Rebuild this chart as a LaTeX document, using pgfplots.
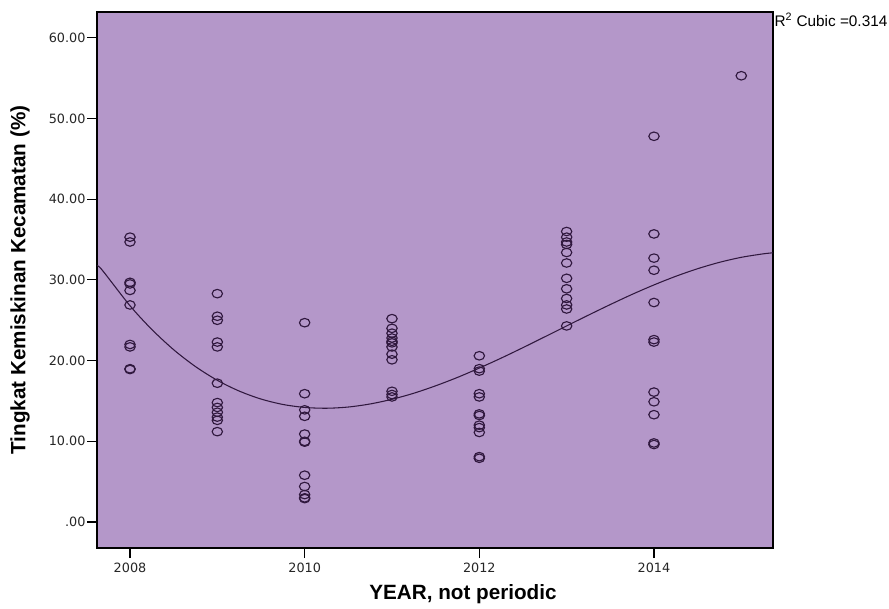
\documentclass[border=0pt]{standalone}
\usepackage{pgfplots}
\pgfplotsset{compat=1.18}
\usepackage{fontspec}
\setmainfont{Liberation Sans}
\newfontfamily\tickfont{DejaVu Sans}
\definecolor{bgp}{RGB}{180,151,201}
\definecolor{mk}{RGB}{48,24,62}
\begin{document}
\begin{tikzpicture}
\path[use as bounding box] (-72.75pt,-45pt) rectangle (594pt,411pt);
\begin{axis}[
  scale only axis,
  width=507pt, height=402pt,
  xmin=2007.622, xmax=2015.363,
  ymin=-3.22, ymax=63.2,
  axis background/.style={fill=bgp},
  axis line style={black, line width=0.8pt},
  xtick={2008,2010,2012,2014},
  xticklabels={2008,2010,2012,2014},
  ytick={0,10,20,30,40,50,60},
  yticklabels={.00,10.00,20.00,30.00,40.00,50.00,60.00},
  tick align=outside, tick pos=left,
  major tick length=7.5pt,
  tick style={black, line width=0.8pt},
  ticklabel style={font=\tickfont\fontsize{9.6}{11}\selectfont, color=black!85},
  yticklabel style={inner sep=1pt},
  xlabel={\bfseries YEAR, not periodic},
  ylabel={\bfseries Tingkat Kemiskinan Kecamatan (\%)},
  label style={font=\fontsize{15.5}{18}\selectfont},
  xlabel style={at={(axis description cs:0.5414,-0.0858)}, anchor=center},
  ylabel style={at={(axis description cs:-0.1139,0.5)}, anchor=center},
  clip mode=individual,
]
\addplot[only marks, mark=o, mark size=3.9pt, color=mk, line width=0.85pt,
  mark options={yscale=0.82}] coordinates {
(2008,35.3) (2008,34.7) (2008,29.7) (2008,29.5) (2008,28.7) (2008,26.9) (2008,22.0) (2008,21.7) (2008,19.0) (2008,18.9)
(2009,28.3) (2009,25.5) (2009,25.0) (2009,22.3) (2009,21.7) (2009,17.2) (2009,14.8) (2009,14.2) (2009,13.6) (2009,13.0) (2009,12.6) (2009,11.2)
(2010,24.7) (2010,15.9) (2010,13.9) (2010,13.1) (2010,10.9) (2010,10.0) (2010,9.9) (2010,5.8) (2010,4.4) (2010,3.4) (2010,3.0) (2010,2.9)
(2011,25.2) (2011,24.0) (2011,23.4) (2011,22.8) (2011,22.4) (2011,22.2) (2011,21.7) (2011,20.8) (2011,20.1) (2011,16.2) (2011,15.8) (2011,15.5)
(2012,20.6) (2012,19.0) (2012,18.7) (2012,15.9) (2012,15.5) (2012,13.4) (2012,13.2) (2012,12.0) (2012,11.7) (2012,11.1) (2012,8.1) (2012,7.9)
(2013,36.0) (2013,35.3) (2013,34.7) (2013,34.4) (2013,33.4) (2013,32.1) (2013,30.2) (2013,28.9) (2013,27.7) (2013,26.9) (2013,26.4) (2013,24.3)
(2014,47.8) (2014,35.7) (2014,32.7) (2014,31.2) (2014,27.2) (2014,22.6) (2014,22.3) (2014,16.1) (2014,14.9) (2014,13.3) (2014,9.8) (2014,9.6)
(2015,55.3)
};
\addplot[color=mk, line width=0.8pt, smooth] coordinates {
(2007.622,31.75) (2007.68,31.24) (2008,26.80) (2008.25,23.86) (2008.5,21.35) (2008.75,19.26)
(2009,17.56) (2009.25,16.23) (2009.5,15.24) (2009.75,14.57) (2010,14.20)
(2010.25,14.10) (2010.5,14.25) (2010.75,14.63) (2011,15.21) (2011.25,15.96)
(2011.5,16.88) (2011.75,17.92) (2012,19.08) (2012.25,20.31) (2012.5,21.61)
(2012.75,22.95) (2013,24.30) (2013.25,25.64) (2013.5,26.95) (2013.75,28.21)
(2014,29.38) (2014.25,30.45) (2014.5,31.39) (2014.75,32.18) (2015,32.80)
(2015.25,33.23) (2015.363,33.36)
};
\end{axis}
\node[anchor=west, font=\fontsize{11.5}{13}\selectfont, inner sep=0pt] at (508pt,396pt) {R\textsuperscript{2} Cubic =0.314};
\end{tikzpicture}
\end{document}
